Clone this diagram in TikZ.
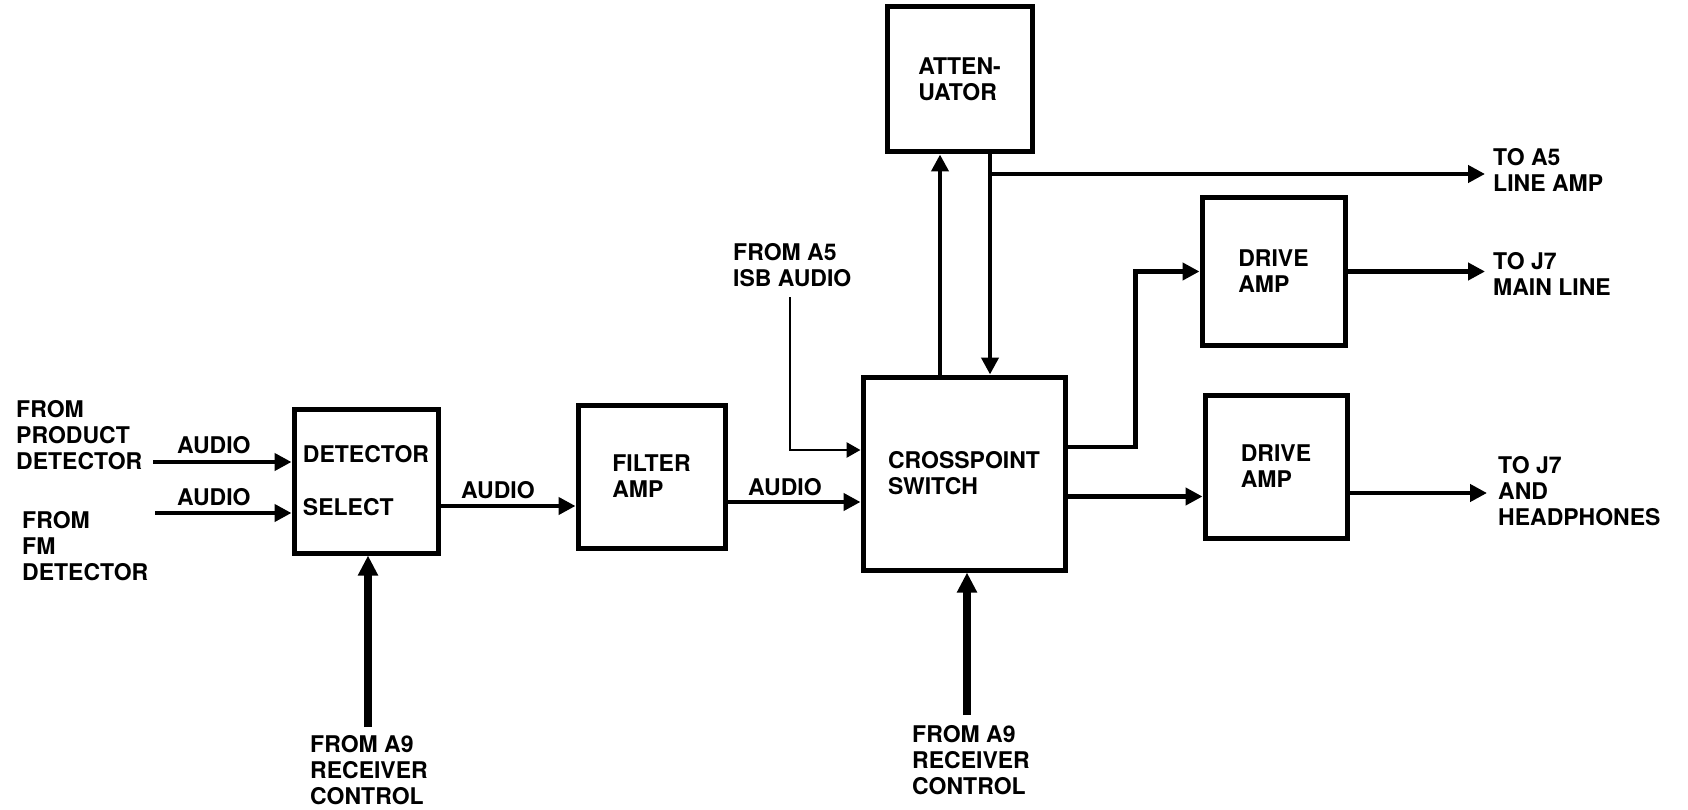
\documentclass[tikz,border=0pt]{standalone}
\usepackage{fontspec}
\setmainfont{TeX Gyre Heros}
\usetikzlibrary{arrows.meta,positioning,calc}

\begin{document}
\begin{tikzpicture}[x=1pt,y=-1pt,
  font={\fontsize{23}{26}\selectfont\bfseries},
  block/.style={draw,line width=5pt,align=left,inner sep=0pt},
  tag/.style={align=left,inner sep=0pt,anchor=west},
  sig/.style={line width=4.2pt,-{Triangle[length=17pt,width=17pt]}},
  thin sig/.style={line width=2.8pt,-{Triangle[length=14pt,width=15pt]}},
  ctl/.style={line width=7.5pt,-{Triangle[length=20pt,width=19pt]}}]
\useasboundingbox (0,0) rectangle (1688,810);

% blocks
\node[block,minimum width=144pt,minimum height=144pt] (sel) at (366,481) {DETECTOR\\[27pt]SELECT};
\node[block,minimum width=147pt,minimum height=143pt] (filt) at (651.5,476.5) {FILTER\\AMP};
\node[block,minimum width=202pt,minimum height=193pt] (xpt) at (964,473.5) {CROSSPOINT\\SWITCH};
\node[block,minimum width=145pt,minimum height=145pt] (att) at (959.5,79.5) {ATTEN-\\UATOR};
\node[block,minimum width=143pt,minimum height=147pt] (drvA) at (1273.5,271.5) {DRIVE\\AMP};
\node[block,minimum width=142pt,minimum height=143pt] (drvB) at (1276,466.5) {DRIVE\\AMP};

% labels
\node[tag] (prod) at (16,435.5) {FROM\\PRODUCT\\DETECTOR};
\node[tag] (fm) at (22,546) {FROM\\FM\\DETECTOR};
\node[tag] (au1) at (177,445) {AUDIO};
\node[tag] (au2) at (177,497) {AUDIO};
\node[tag] (au3) at (461,490) {AUDIO};
\node[tag] (au4) at (748,487) {AUDIO};
\node[tag] (isb) at (733,265) {FROM A5\\ISB AUDIO};
\node[tag] (lineamp) at (1493,170) {TO A5\\LINE AMP};
\node[tag] (mainline) at (1493,273.5) {TO J7\\MAIN LINE};
\node[tag] (phones) at (1498,491) {TO J7\\AND\\HEADPHONES};
\node[tag] (rcvA) at (310,770) {FROM A9\\RECEIVER\\CONTROL};
\node[tag] (rcvB) at (912,760) {FROM A9\\RECEIVER\\CONTROL};

% free ends
\coordinate (prodout) at (153,462);
\coordinate (fmout) at (155,513);
\coordinate (isbin) at (790,297);
\coordinate (lineout) at (1485,174);
\coordinate (mainout) at (1485,271.5);
\coordinate (phonesout) at (1487,493);
\coordinate (rcvAin) at (368,727);
\coordinate (rcvBin) at (967,715);

\path[sig]
(prodout) edge (prodout -| sel.west)
(fmout) edge (fmout -| sel.west)
([yshift=-25pt]sel.east) edge ([yshift=-25pt]sel.east -| filt.west)
([yshift=-25.5pt]filt.east) edge ([yshift=-25.5pt]filt.east -| xpt.west)
([xshift=-24pt]xpt.north) edge ([xshift=-24pt]xpt.north |- att.south)
([xshift=30.5pt]att.south) edge ([xshift=30.5pt]att.south |- xpt.north)
([xshift=30.5pt]att.south |- lineout) edge (lineout)
([yshift=-23pt]xpt.east) edge ([yshift=-23pt]xpt.east -| drvB.west)
(drvA.east) edge (mainout)
([yshift=-26.5pt]drvB.east) edge (phonesout)
;
\draw[sig] ([yshift=26.5pt]xpt.east) -- ++(68,0) |- (drvA.west);
\draw[thin sig] (isbin) |- ([yshift=23.5pt]xpt.west);
\path[ctl]
(rcvAin) edge (rcvAin |- sel.south)
(rcvBin) edge (rcvBin |- xpt.south)
;
\end{tikzpicture}
\end{document}
